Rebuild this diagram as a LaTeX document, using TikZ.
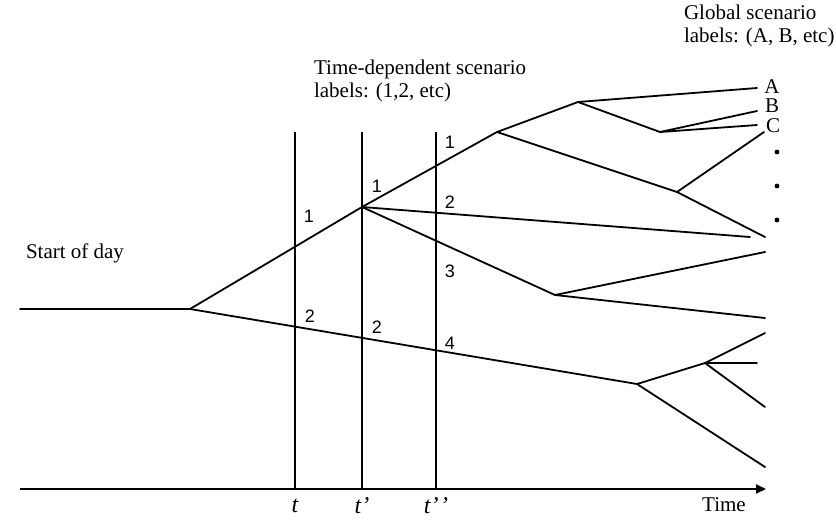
\documentclass[tikz,border=0pt]{standalone}
\usepackage{fontspec}
\setmainfont{Liberation Serif}
\newfontfamily\digitfont{Liberation Sans}
\usetikzlibrary{arrows.meta}

\begin{document}
\begin{tikzpicture}[x=0.5pt,y=-0.5pt,font=\fontsize{10.5}{11.5}\selectfont,
  branch/.style={line width=0.9pt,line cap=round},
  timeline/.style={line width=0.6pt},
  lbl/.style={font=\digitfont\fontsize{9}{10}\selectfont,inner sep=0pt},
  dot/.style={circle,fill,inner sep=0pt,minimum size=2.4pt},
  >={Triangle[length=5pt,width=4.5pt]}]
\useasboundingbox (0,0) rectangle (836,521);

% time axis
\coordinate (axs) at (20,489);
\coordinate (axe) at (766,489);
\draw[line width=0.9pt,->] (axs) -- (axe);
\node (time) at (724,505) {Time};

% decision times
\foreach \x/\name/\txt in {295/ta/t,362/tb/t\textquoteright,436/tc/t\textquoteright\kern0.8pt\textquoteright}{
  \coordinate (\name top) at (\x,132);
  \coordinate (\name bot) at (\x,489);
  \draw[timeline] (\name top) -- (\name bot);
  \node[font=\itshape\fontsize{12}{14}\selectfont] (\name lab) at (\x,506) {\txt};
}

% scenario tree
\coordinate (s0) at (20,309);   \coordinate (s1) at (190,309);
\coordinate (b1) at (362,207);  \coordinate (b2) at (497,132);
\coordinate (b3) at (578,102);  \coordinate (b4) at (660,132);
\coordinate (b5) at (677,192);  \coordinate (b6) at (555,295);
\coordinate (b7) at (637,384);  \coordinate (b8) at (705,363);
\coordinate (eA) at (757,88);   \coordinate (eB) at (757,111);
\coordinate (eC) at (757,125);  \coordinate (e4) at (764,132);
\coordinate (e5) at (765,237);  \coordinate (e6) at (750,237);
\coordinate (e7) at (765,252);  \coordinate (e8) at (765,318);
\coordinate (e9) at (765,333);  \coordinate (e10) at (757,363);
\coordinate (e11) at (765,407); \coordinate (e12) at (765,467);
\foreach \a/\b in {s0/s1,s1/b1,s1/b7,b1/b2,b2/b3,b3/eA,b3/b4,b4/eB,b4/eC,
  b2/b5,b5/e4,b5/e5,b1/e6,b1/b6,b6/e7,b6/e8,b7/b8,b8/e9,b8/e10,b8/e11,b7/e12}
  \draw[branch] (\a) -- (\b);

% time-dependent labels
\node[lbl] (ta1) at (309,216) {1};
\node[lbl] (ta2) at (310,316) {2};
\node[lbl] (tb1) at (377,186) {1};
\node[lbl] (tb2) at (377,327) {2};
\node[lbl] (tc1) at (450,142) {1};
\node[lbl] (tc2) at (450,202) {2};
\node[lbl] (tc3) at (450,271) {3};
\node[lbl] (tc4) at (450,343) {4};

% global labels
\node (gA) at (772,87) {A};
\node (gB) at (772,106) {B};
\node (gC) at (773,126) {C};
\foreach \y/\name in {152/d1,186/d2,220/d3}
  \node[dot] (\name) at (777,\y) {};

% captions
\node (start) at (75,253) {Start of day};
\node[anchor=west,align=left] (tdlab) at (307,81) {Time-dependent scenario\\labels: (1,2, etc)};
\node[anchor=west,align=left] (glab) at (677,26) {Global scenario\\labels: (A, B, etc)};
\end{tikzpicture}
\end{document}
